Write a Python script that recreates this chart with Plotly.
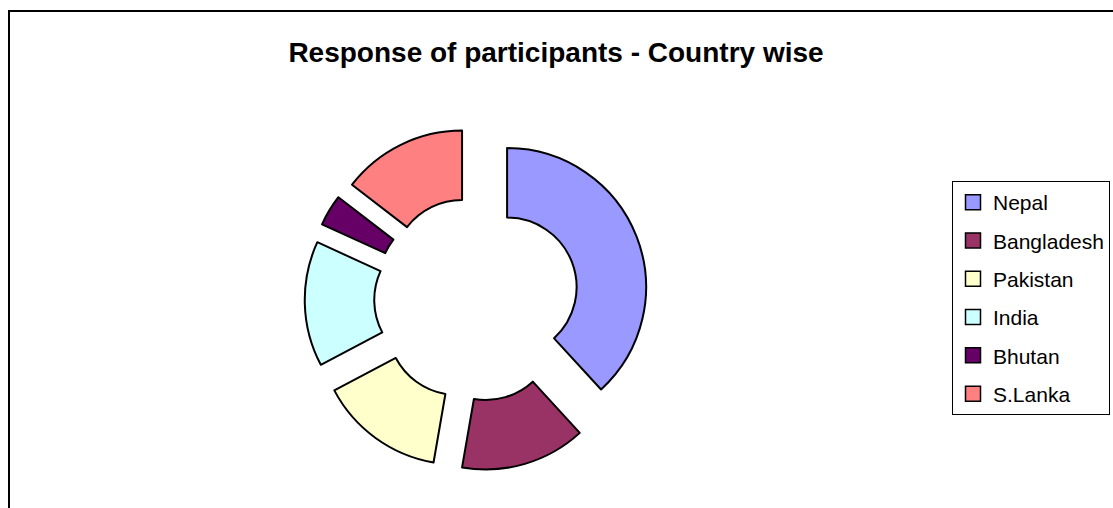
import plotly.graph_objects as go

countries = ["Nepal", "Bangladesh", "Pakistan", "India", "Bhutan", "S.Lanka"]
responses = [21, 8, 8, 8, 2, 8]
colors = ["#9999FF", "#993366", "#FFFFCC", "#CCFFFF", "#660066", "#FF8080"]
title_text = "Response of participants - Country wise"

W, H = 1113, 508
FONT = "Arial, 'Liberation Sans', sans-serif"

fig = go.Figure()

fig.add_trace(go.Pie(
    labels=countries,
    values=responses,
    marker=dict(colors=colors, line=dict(color="black", width=2)),
    hole=0.5,
    pull=[0.236] * len(countries),
    sort=False,
    direction="clockwise",
    rotation=0,
    textinfo="none",
    hoverinfo="label+value+percent",
    showlegend=False,
    domain=dict(x=[0.2738, 0.5825], y=[0.0732, 0.7496]),
))

# legend entries (one per country) for grouped legend spacing
for name, col in zip(countries, colors):
    fig.add_trace(go.Scatter(
        x=[None], y=[None], mode="markers", name=name, legendgroup=name,
        marker=dict(symbol="square", size=15, color=col,
                    line=dict(color="black", width=1.5)),
        hoverinfo="skip",
    ))

fig.update_layout(
    width=W, height=H,
    margin=dict(l=0, r=0, t=0, b=0),
    paper_bgcolor="white", plot_bgcolor="white",
    title=dict(text="<b>" + title_text + "</b>", x=556 / W, xanchor="center",
               y=1 - 52 / H, yanchor="middle", yref="container",
               font=dict(family=FONT, size=28, color="black")),
    xaxis=dict(visible=False), yaxis=dict(visible=False),
    legend=dict(x=952 / W, xanchor="left", y=1 - 181 / H, yanchor="top",
                bordercolor="black", borderwidth=1, bgcolor="white",
                font=dict(family=FONT, size=21, color="black"),
                traceorder="grouped", tracegroupgap=8, itemwidth=30),
    shapes=[dict(type="rect", xref="paper", yref="paper",
                 x0=9 / W, x1=1.02, y0=-0.02, y1=1 - 11 / H,
                 line=dict(color="black", width=2), layer="below")],
)

fig.write_html("out.html")
